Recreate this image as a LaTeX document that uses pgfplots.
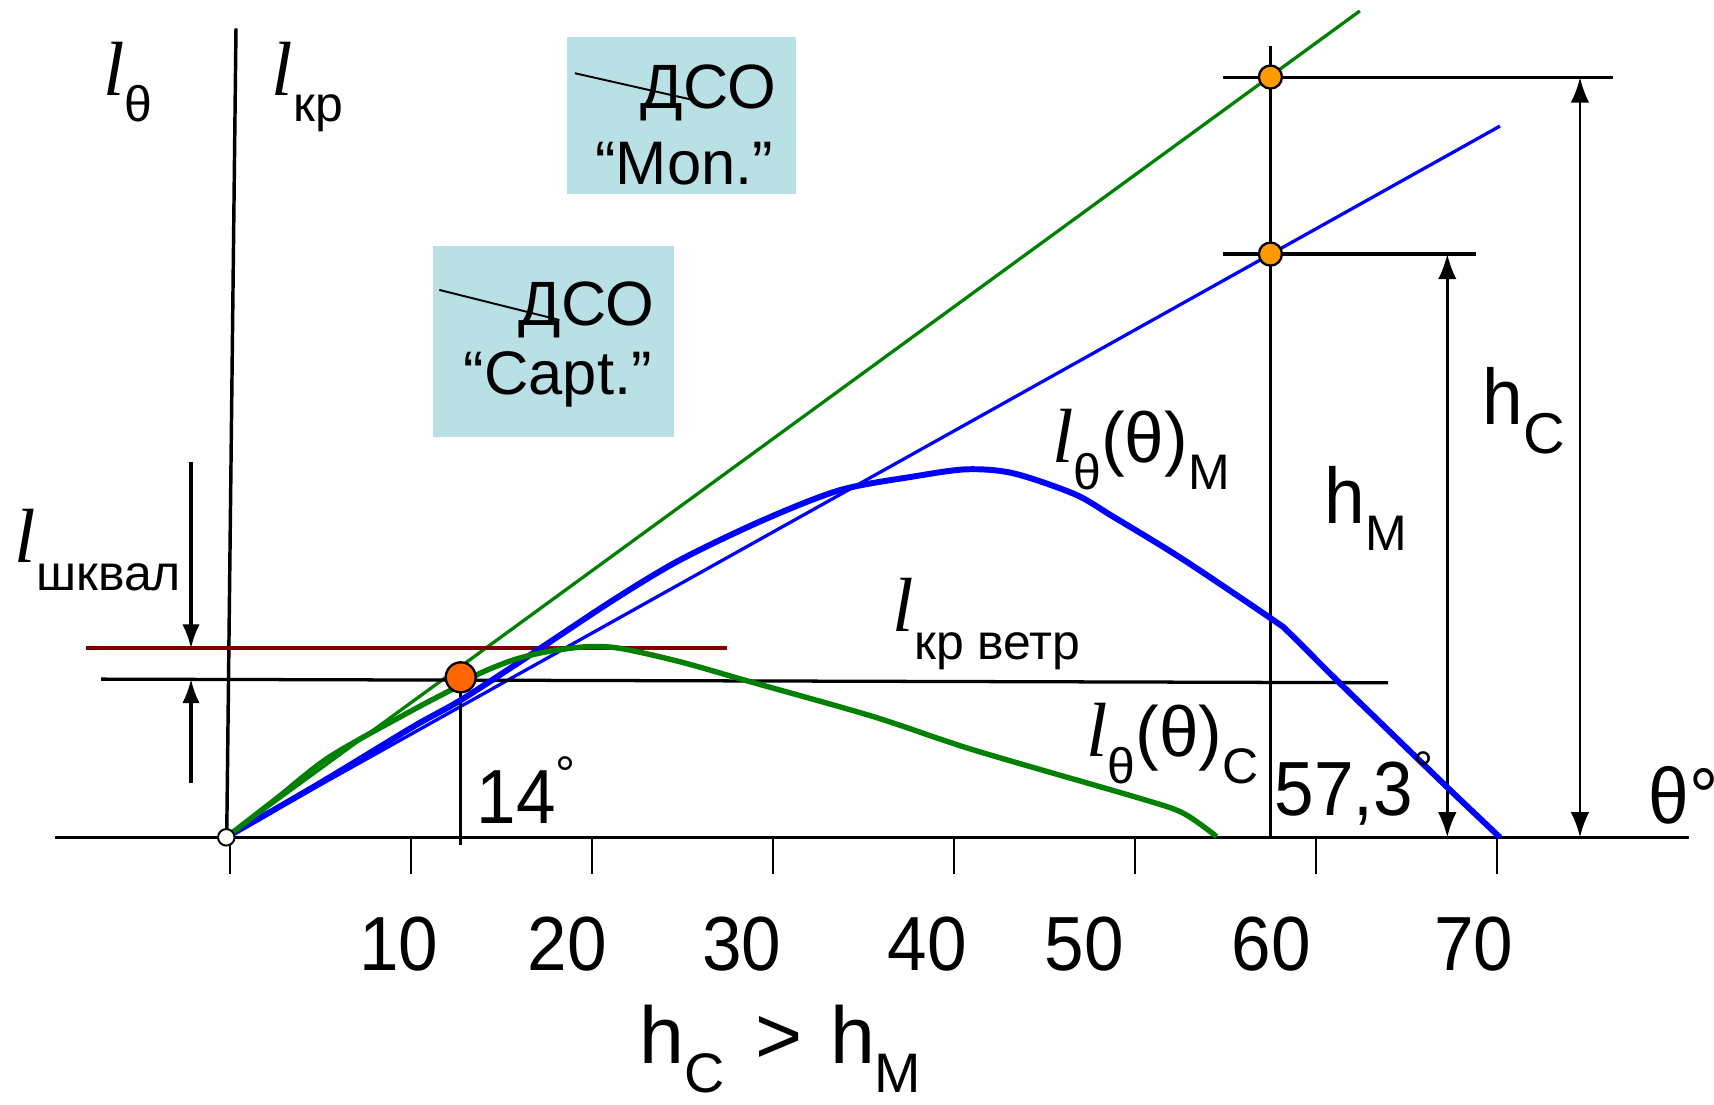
\documentclass[border=0pt]{standalone}
\usepackage{graphicx}
\usepackage{pgfplots}
\pgfplotsset{compat=1.18}
\usepackage{fontspec}
\setmainfont{Liberation Sans}
\newfontfamily\serif{Liberation Serif}
\usetikzlibrary{arrows.meta}
\definecolor{cgreen}{RGB}{0,128,0}
\definecolor{cblue}{RGB}{0,0,255}
\definecolor{cred}{RGB}{128,0,0}
\definecolor{corange}{RGB}{255,102,0}
\definecolor{cyellow}{RGB}{255,153,0}
\definecolor{cbox}{RGB}{185,224,228}
\newcommand{\Ll}{{\fontsize{20}{20}\selectfont\serif\itshape l\/}}
\newcommand{\Sub}[2][0.25cm]{\raisebox{-#1}{\fontsize{13}{13}\selectfont #2}}
\newcommand{\SubS}[3]{\raisebox{-#1}{\fontsize{#2}{#2}\selectfont #3}}
\newcommand{\Tx}{\fontsize{18.5}{20}\selectfont}
\newcommand{\V}[1]{\scalebox{1}[1.08]{#1}}
\begin{document}
\begin{tikzpicture}
\begin{axis}[name=ax, scale only axis, width=15.68cm, height=10.10cm,
  xmin=-12.681, xmax=82.005, ymin=-1.4734, ymax=4.6256,
  hide axis, clip=false]
% boxes
\fill[cbox] (axis cs:18.62,3.552) rectangle (axis cs:31.29,4.42);
\fill[cbox] (axis cs:11.22,2.213) rectangle (axis cs:24.55,3.267);
\node[anchor=base west, inner sep=0] at (axis cs:22.68,4.028) {\fontsize{16.3}{16}\selectfont ДСО};
\node[anchor=base west, inner sep=0] at (axis cs:20.17,3.605) {\fontsize{16}{16}\selectfont “Mon.”};
\node[anchor=base west, inner sep=0] at (axis cs:15.94,2.83) {\fontsize{16.3}{16}\selectfont ДСО};
\node[anchor=base west, inner sep=0] at (axis cs:12.9,2.444) {\fontsize{16}{16}\selectfont “Capt.”};
\addplot[black, line width=0.5pt] coordinates {(19.08,4.221) (25.62,4.073)};
\addplot[black, line width=0.5pt] coordinates {(11.59,3.024) (18.22,2.858)};
% x axis and ticks
\addplot[black, line width=0.7pt] coordinates {(-9.66,0) (80.6,0)};
\pgfplotsinvokeforeach{0,10,20,30,40,50,60,70}{
  \draw[line width=0.5pt] (axis cs:#1,0) -- (axis cs:#1,-0.2);
}
\node[anchor=base, inner sep=0] at (axis cs:9.36,-0.737) {\Tx\V{10}};
\node[anchor=base, inner sep=0] at (axis cs:18.66,-0.737) {\Tx\V{20}};
\node[anchor=base, inner sep=0] at (axis cs:28.29,-0.737) {\Tx\V{30}};
\node[anchor=base, inner sep=0] at (axis cs:38.53,-0.737) {\Tx\V{40}};
\node[anchor=base, inner sep=0] at (axis cs:47.22,-0.737) {\Tx\V{50}};
\node[anchor=base, inner sep=0] at (axis cs:57.55,-0.737) {\Tx\V{60}};
\node[anchor=base, inner sep=0] at (axis cs:68.72,-0.737) {\Tx\V{70}};
% l_kr vertical line
\addplot[black, line width=0.9pt] coordinates {(-0.157,0) (0.356,4.469)};
% thin straight lines
\addplot[cgreen, line width=0.85pt] coordinates {(-0.18,0) (62.44,4.565)};
\addplot[cblue, line width=0.85pt] coordinates {(-0.18,0) (70.18,3.929)};
% horizontal lines
\addplot[cred, line width=1pt] coordinates {(-7.95,1.044) (27.5,1.044)};
\addplot[black, line width=0.85pt] coordinates {(-7.1,0.874) (64.0,0.854)};
% verticals & top horizontals
\addplot[black, line width=0.85pt] coordinates {(12.77,0.884) (12.77,-0.042)};
\addplot[black, line width=0.85pt] coordinates {(57.5,0) (57.5,4.372)};
\addplot[black, line width=0.85pt] coordinates {(54.9,4.198) (76.4,4.198)};
\addplot[black, line width=0.85pt] coordinates {(54.9,3.222) (68.86,3.222)};
% arrows
\draw[line width=0.7pt, {Latex[length=0.23cm,width=0.17cm]}-{Latex[length=0.23cm,width=0.17cm]}] (axis cs:74.6,4.198) -- (axis cs:74.6,0);
\draw[line width=0.7pt, {Latex[length=0.23cm,width=0.17cm]}-{Latex[length=0.23cm,width=0.17cm]}] (axis cs:67.27,3.222) -- (axis cs:67.27,0);
\draw[line width=0.8pt, -{Latex[length=0.22cm,width=0.16cm]}] (axis cs:-2.13,2.075) -- (axis cs:-2.13,1.044);
\draw[line width=0.8pt, -{Latex[length=0.22cm,width=0.16cm]}] (axis cs:-2.13,0.30) -- (axis cs:-2.13,0.874);
% origin circle
\addplot[only marks, mark=*, mark size=2.15pt, mark options={fill=white, draw=black, line width=0.5pt}] coordinates {(-0.18,0)};
% thick curves
\addplot[cblue, line width=1.55pt, smooth, tension=0.5] coordinates {
(-0.18,0) (5,0.3) (10.14,0.611) (12.77,0.758) (16.5,1.0) (21.2,1.311) (24.88,1.532) (29.49,1.753) (33.72,1.918) (37.77,1.993) (40.72,2.033) (43.3,2.011) (46.7,1.895) (48.82,1.771) (52.6,1.54) (57.66,1.2) (58.57,1.127) (61.34,0.851) (67.23,0.28) (70.18,0)};
\addplot[cgreen, line width=1.4pt, smooth, tension=0.5] coordinates {
(-0.18,0) (2.6,0.215) (5.55,0.446) (10.14,0.704) (12.77,0.842) (13.83,0.906) (15.68,0.98) (17.51,1.025) (19.73,1.053) (21.57,1.044) (24.88,0.97) (28.75,0.86) (35.56,0.667) (41.09,0.483) (50.3,0.215) (52.69,0.133) (54.53,0.004)};
% dots
\addplot[only marks, mark=*, mark size=3.9pt, mark options={fill=corange, draw=black, line width=0.6pt}] coordinates {(12.77,0.884)};
\addplot[only marks, mark=*, mark size=3.0pt, mark options={fill=cyellow, draw=black, line width=0.6pt}] coordinates {(57.5,4.2) (57.5,3.222)};
% labels
\node[anchor=base west, inner sep=0] at (axis cs:-7.0,4.10) {\Ll\Sub[0.24cm]{θ}};
\node[anchor=base west, inner sep=0] at (axis cs:2.3,4.10) {\Ll\Sub[0.245cm]{кр}};
\node[anchor=base west, inner sep=0] at (axis cs:-11.9,1.52) {\Ll\Sub[0.26cm]{шквал}};
\node[anchor=base west, inner sep=0] at (axis cs:45.4,2.07) {\Ll\Sub{θ}\Tx(θ)\Sub{M}};
\node[anchor=base west, inner sep=0] at (axis cs:36.6,1.137) {\Ll\Sub[0.26cm]{кр ветр}};
\node[anchor=base west, inner sep=0] at (axis cs:47.3,0.446) {\Ll\Sub{θ}\Tx(θ)\Sub{C}};
\node[anchor=base west, inner sep=0] at (axis cs:13.6,0.0785) {\Tx\V{14}\raisebox{0.29cm}{\fontsize{13}{13}\selectfont °}};
\node[anchor=base west, inner sep=0] at (axis cs:57.7,0.123) {\Tx\V{57,3}\raisebox{0.26cm}{\fontsize{13}{13}\selectfont °}};
\node[anchor=base west, inner sep=0] at (axis cs:78.36,0.0785) {\fontsize{19}{19}\selectfont\V{θ°}};
\node[anchor=base west, inner sep=0] at (axis cs:69.2,2.28) {\fontsize{19}{19}\selectfont\V{h}\SubS{0.267cm}{15}{C}};
\node[anchor=base west, inner sep=0] at (axis cs:60.45,1.736) {\fontsize{19}{19}\selectfont\V{h}\SubS{0.25cm}{13}{M}};
\node[anchor=base west, inner sep=0] at (axis cs:22.63,-1.25) {\fontsize{21}{21}\selectfont h\SubS{0.26cm}{14.5}{C}\hspace{0.28cm}>\hspace{0.25cm}h\SubS{0.26cm}{14.5}{M}};
\end{axis}
\pgfresetboundingbox
\path (ax.south west) rectangle (ax.north east);
\end{tikzpicture}
\end{document}
